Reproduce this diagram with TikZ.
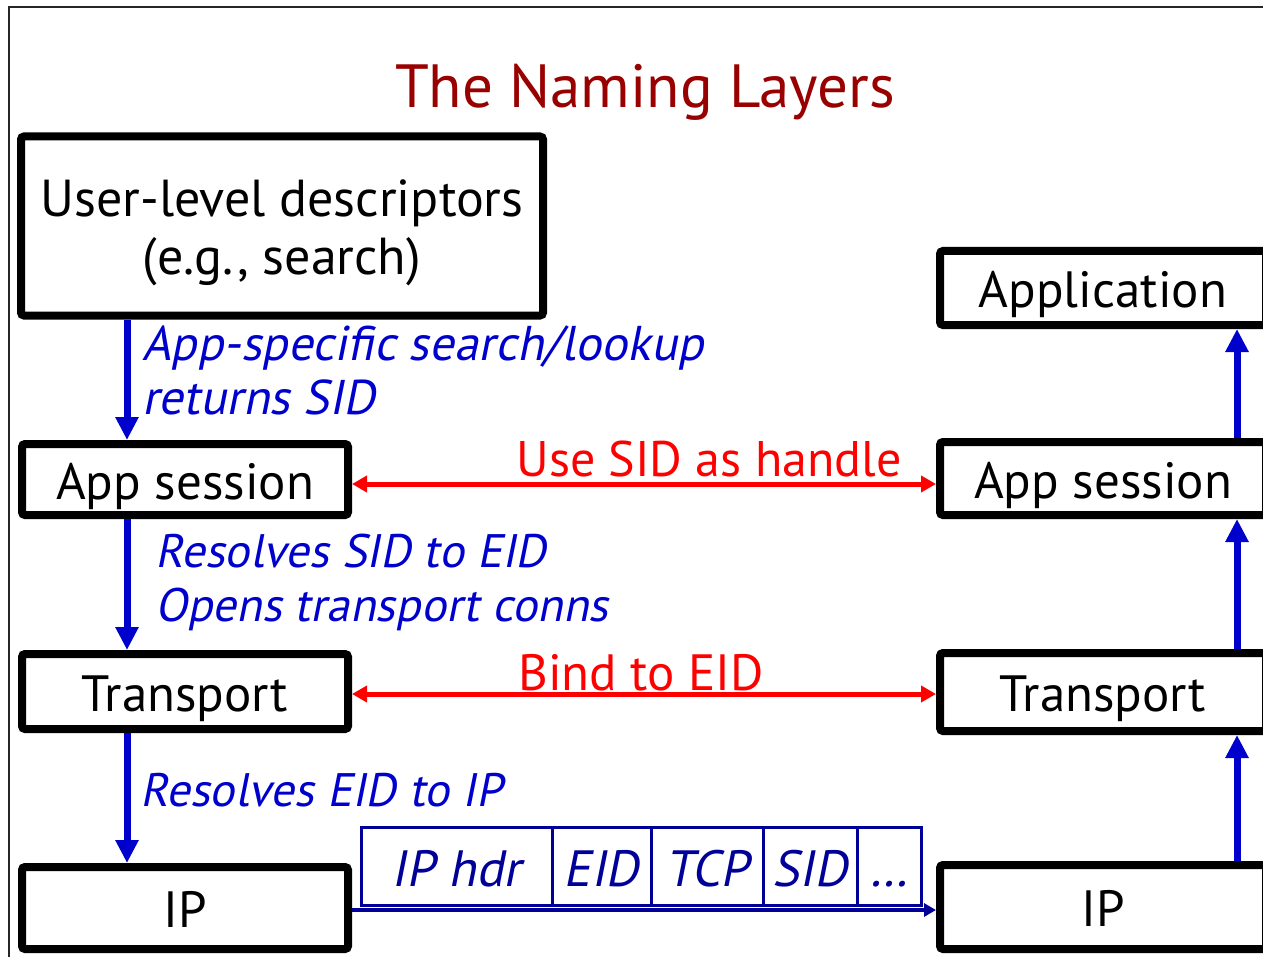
\documentclass[tikz,border=0pt]{standalone}
\usepackage{fontspec}
\setmainfont{PT Sans}
\newfontfamily\obliquefont[FakeSlant=0.2]{PT Sans}
\usetikzlibrary{arrows.meta,calc}
\definecolor{titlered}{HTML}{990000}
\definecolor{layerblue}{HTML}{0000CC}
\definecolor{pktblue}{HTML}{000099}
\definecolor{peerred}{HTML}{FF0000}

\begin{document}
\begin{tikzpicture}[x=0.5pt,y=-0.5pt,
  layer/.style={draw=black, line width=4pt, rounded corners=1.5pt, inner sep=0pt,
    minimum width=163pt, font=\fontsize{25.5}{29}\selectfont,
    text height=19.5pt, text depth=0pt},
  stackarrow/.style={draw=layerblue, line width=3.5pt,
    -{Triangle[width=11pt,length=11.5pt]}},
  peerarrow/.style={draw=peerred, line width=2.5pt,
    {Triangle[width=8pt,length=7.5pt]}-{Triangle[width=8pt,length=7.5pt]}},
  wirearrow/.style={draw=pktblue, line width=2pt,
    -{Triangle[width=6.5pt,length=6pt]}},
  pktcell/.style={draw=pktblue, line width=1.5pt, inner sep=0pt, outer sep=0pt,
    minimum height=39pt, text=pktblue,
    font=\obliquefont\fontsize{25.5}{29}\selectfont,
    text height=20pt, text depth=0pt},
  steplabel/.style={anchor=base west, inner sep=0pt, text=layerblue,
    font=\obliquefont\fontsize{24}{28}\selectfont},
  peerlabel/.style={anchor=base west, inner sep=0pt, text=peerred,
    font=\fontsize{25}{29}\selectfont}
]
\useasboundingbox (0,0) rectangle (1263,957);
\clip (0,0) rectangle (1263,957);
\fill[white] (0,0) rectangle (1263,957);

% slide frame
\draw[line width=1pt, draw=black!85] (1300,7) -- (9,7) -- (9,1000);

% title
\node[anchor=base, inner sep=0pt, text=titlered,
  font=\fontsize{30.5}{36}\selectfont] (title) at (645,108) {The Naming Layers};

% reference columns and rows
\coordinate (colL) at (127,0);
\coordinate (colR) at (1237,0);
\coordinate (rowA) at (0,484);
\coordinate (rowB) at (0,694);
\coordinate (rowC) at (0,910);

% left stack
\node[layer, minimum width=261pt, minimum height=89.5pt, align=center,
  text height=, text depth=, font=\fontsize{26}{29}\selectfont]
  (desc) at (282,226) {\rule{0pt}{25.5pt}User-level descriptors\\(e.g., search)};
\node[layer, minimum height=35.5pt] (lapp) at (185,479.5) {App session};
\node[layer, minimum height=37.5pt] (ltrans) at (185,691.5) {Transport};
\node[layer, minimum height=41pt] (lip) at (185,908) {IP};

% right stack
\node[layer, minimum height=37pt] (rappl) at (1103,288) {Application};
\node[layer, minimum height=36.5pt] (rapps) at (1103,478.5) {App session};
\node[layer, minimum height=39pt] (rtrans) at (1103,692) {Transport};
\node[layer, minimum height=42pt] (rip) at (1103,907) {IP};

% downward resolution steps
\draw[stackarrow] (desc.south -| colL) -- (lapp.north -| colL);
\draw[stackarrow] (lapp.south -| colL) -- (ltrans.north -| colL);
\draw[stackarrow] (ltrans.south -| colL) -- (lip.north -| colL);

% upward delivery
\draw[stackarrow] (rip.north -| colR) -- (rtrans.south -| colR);
\draw[stackarrow] (rtrans.north -| colR) -- (rapps.south -| colR);
\draw[stackarrow] (rapps.north -| colR) -- (rappl.south -| colR);

% step labels
\node[steplabel, font=\obliquefont\fontsize{24.4}{28}\selectfont]
  (s1a) at (142,360) {App-specific search/lookup};
\node[steplabel, font=\obliquefont\fontsize{24.4}{28}\selectfont]
  (s1b) at (142,414) {returns SID};
\node[steplabel, font=\obliquefont\fontsize{23.5}{28}\selectfont]
  (s2a) at (155,567) {Resolves SID to EID};
\node[steplabel, font=\obliquefont\fontsize{23.5}{28}\selectfont]
  (s2b) at (155,621) {Opens transport conns};
\node[steplabel, font=\obliquefont\fontsize{23.5}{28}\selectfont]
  (s3) at (140,806) {Resolves EID to IP};

% peer relations
\draw[peerarrow] (lapp.east |- rowA) -- (rapps.west |- rowA);
\node[peerlabel] (peerA) at (516,476) {Use SID as handle};
\draw[peerarrow] (ltrans.east |- rowB) -- (rtrans.west |- rowB);
\node[peerlabel, font=\fontsize{25.5}{29}\selectfont] (peerB) at (518,690) {Bind to EID};

% packet on the wire
\node[pktcell, minimum width=95.5pt] (pip) at (456.5,866) {IP hdr};
\node[pktcell, minimum width=49.5pt, anchor=west] (peid) at (pip.east) {EID};
\node[pktcell, minimum width=56pt, anchor=west] (ptcp) at (peid.east) {TCP};
\node[pktcell, minimum width=47pt, anchor=west] (psid) at (ptcp.east) {SID};
\node[pktcell, minimum width=32pt, anchor=west] (pmore) at (psid.east) {…};
\draw[wirearrow] (lip.east |- rowC) -- (rip.west |- rowC);
\end{tikzpicture}
\end{document}
